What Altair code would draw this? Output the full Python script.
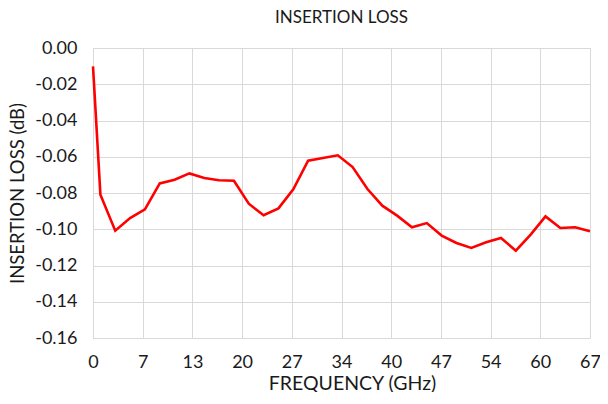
import altair as alt
import pandas as pd

freq = [0, 1, 3, 5, 7, 9, 11, 13, 15, 17, 19, 21, 23, 25, 27, 29, 31, 33,
        35, 37, 39, 41, 43, 45, 47, 49, 51, 53, 55, 57, 59, 61, 63, 65, 67]
loss = [-0.0101, -0.0809, -0.1008, -0.0938, -0.0890, -0.0747, -0.0727, -0.0692,
        -0.0717, -0.0730, -0.0732, -0.0859, -0.0923, -0.0885, -0.0780, -0.0622,
        -0.0607, -0.0592, -0.0657, -0.0778, -0.0870, -0.0925, -0.0989, -0.0966,
        -0.1035, -0.1076, -0.1103, -0.1072, -0.1048, -0.1118, -0.1030, -0.0929,
        -0.0993, -0.0989, -0.1011]
x_tick_labels = ["0", "7", "13", "20", "27", "34", "40", "47", "54", "60", "67"]
y_ticks = [0.0, -0.02, -0.04, -0.06, -0.08, -0.10, -0.12, -0.14, -0.16]

df = pd.DataFrame({"freq": freq, "loss": loss})
x_tick_values = [i * 67 / 10 for i in range(11)]
label_expr = "[" + ",".join(f"'{s}'" for s in x_tick_labels) + "][round(datum.value / 6.7)]"
y_label_expr = "replace(format(datum.value, '.2f'), '\u2212', '-')"

FONT = "Lato"
TXT = "#1a1a1a"

chart = alt.Chart(df).mark_line(color="#ff0000", strokeWidth=2.6).encode(
    x=alt.X("freq:Q", title="FREQUENCY  (GHz)",
            scale=alt.Scale(domain=[0, 67], nice=False, zero=False),
            axis=alt.Axis(values=x_tick_values, labelExpr=label_expr,
                          labelFlush=False, labelOverlap=False,
                          grid=True, gridColor="#d9d9d9", ticks=False,
                          domain=True, domainColor="#d9d9d9",
                          labelFontSize=18, titleFontSize=19.5, labelPadding=15,
                          titlePadding=3, titleX=259, labelColor=TXT, titleColor=TXT,
                          labelFont=FONT, titleFont=FONT, titleFontWeight="normal")),
    y=alt.Y("loss:Q", title="INSERTION LOSS (dB)",
            scale=alt.Scale(domain=[-0.16, 0], nice=False),
            axis=alt.Axis(values=y_ticks, labelExpr=y_label_expr,
                          labelFlush=False, labelOverlap=False,
                          grid=True, gridColor="#d9d9d9", ticks=False,
                          domain=True, domainColor="#d9d9d9",
                          labelFontSize=18, titleFontSize=18.5, labelPadding=16,
                          titlePadding=7, labelColor=TXT, titleColor=TXT,
                          labelFont=FONT, titleFont=FONT, titleFontWeight="normal")),
).properties(
    width=497, height=290,
    title=alt.TitleParams("INSERTION LOSS", fontSize=17, font=FONT,
                          fontWeight="normal", color=TXT, offset=12),
    padding={"left": 85, "top": 40, "right": 10, "bottom": 54},
    autosize=alt.AutoSizeParams(type="none"),
).configure_view(stroke=None)

chart.save("out.html", embed_options={"renderer": "svg", "actions": False})
